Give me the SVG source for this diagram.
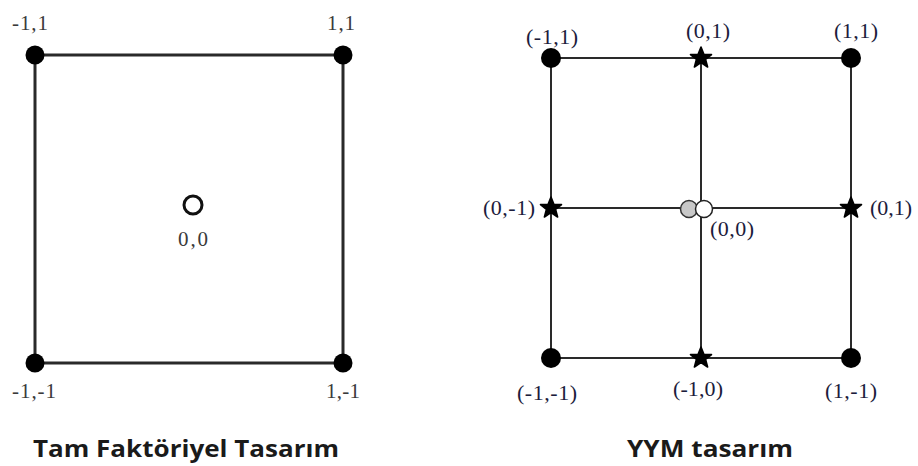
<svg xmlns="http://www.w3.org/2000/svg" width="918" height="466" viewBox="0 0 918 466">
<style>
.lbl{font-family:"Liberation Serif","Times New Roman",serif;font-size:21px;fill:#3a3a3a}
.rlbl{font-family:"Liberation Serif","Times New Roman",serif;font-size:22px;fill:#1c1c3c}
.title{font-family:"Open Sans","Noto Sans",sans-serif;font-weight:bold;font-size:24px;fill:#1a1a1a}
.ledge{stroke:#2a2a2a;stroke-width:3;fill:none}
.redge{stroke:#2a2a2a;stroke-width:2;fill:none}
.dot{fill:#000}
</style>
<defs>
<polygon id="star" points="0,-11 2.9,-3.6 10.5,-3.4 4.6,1.4 6.6,9 0,4.6 -6.6,9 -4.6,1.4 -10.5,-3.4 -2.9,-3.6" fill="#000" stroke="#000" stroke-width="1.6" stroke-linejoin="round"/>
</defs>
<rect width="918" height="466" fill="#fff"/>
<g id="connectors">
<path class="ledge" d="M35,55 H343 V363 H35 Z"/>
<path class="redge" d="M551,58 H851 V358 H551 Z M701,58 V358 M551,208 H851"/>
</g>
<g id="left-corner-tl"><circle class="dot" cx="35" cy="55" r="9.5"/><text class="lbl" x="30" y="30" text-anchor="middle" textLength="36" lengthAdjust="spacing">-1,1</text></g>
<g id="left-corner-tr"><circle class="dot" cx="343" cy="55" r="9.5"/><text class="lbl" x="341" y="30" text-anchor="middle" textLength="28" lengthAdjust="spacing">1,1</text></g>
<g id="left-corner-bl"><circle class="dot" cx="35" cy="363" r="9.5"/><text class="lbl" x="34" y="398" text-anchor="middle" textLength="44" lengthAdjust="spacing">-1,-1</text></g>
<g id="left-corner-br"><circle class="dot" cx="343" cy="363" r="9.5"/><text class="lbl" x="343" y="398" text-anchor="middle" textLength="34" lengthAdjust="spacing">1,-1</text></g>
<g id="left-center"><circle cx="193" cy="205" r="9" fill="#fff" stroke="#111" stroke-width="3"/><text class="lbl" x="193" y="246" text-anchor="middle" textLength="30" lengthAdjust="spacing">0,0</text></g>
<g id="right-tl"><circle class="dot" cx="551" cy="58" r="10"/><text class="rlbl" x="552" y="44" text-anchor="middle" textLength="52" lengthAdjust="spacing">(-1,1)</text></g>
<g id="right-tm"><use href="#star" x="701" y="58"/><text class="rlbl" x="708" y="38" text-anchor="middle" textLength="44" lengthAdjust="spacing">(0,1)</text></g>
<g id="right-tr"><circle class="dot" cx="851" cy="58" r="10"/><text class="rlbl" x="856" y="38" text-anchor="middle" textLength="44" lengthAdjust="spacing">(1,1)</text></g>
<g id="right-ml"><use href="#star" x="551" y="208"/><text class="rlbl" x="509" y="215" text-anchor="middle" textLength="52" lengthAdjust="spacing">(0,-1)</text></g>
<g id="right-mr"><use href="#star" x="851" y="208"/><text class="rlbl" x="891" y="215" text-anchor="middle" textLength="42" lengthAdjust="spacing">(0,1)</text></g>
<g id="right-center"><circle cx="689" cy="209" r="8.5" fill="#c8c8c8" stroke="#333" stroke-width="1.5"/><circle cx="704" cy="209" r="8.5" fill="#fff" stroke="#222" stroke-width="1.5"/><text class="rlbl" x="732" y="236" text-anchor="middle" textLength="44" lengthAdjust="spacing">(0,0)</text></g>
<g id="right-bl"><circle class="dot" cx="551" cy="358" r="10"/><text class="rlbl" x="547" y="400" text-anchor="middle" textLength="60" lengthAdjust="spacing">(-1,-1)</text></g>
<g id="right-bm"><use href="#star" x="701" y="358"/><text class="rlbl" x="698" y="396" text-anchor="middle" textLength="50" lengthAdjust="spacing">(-1,0)</text></g>
<g id="right-br"><circle class="dot" cx="851" cy="358" r="10"/><text class="rlbl" x="851" y="398" text-anchor="middle" textLength="52" lengthAdjust="spacing">(1,-1)</text></g>
<g id="title-left"><text class="title" x="186" y="457" text-anchor="middle" textLength="306" lengthAdjust="spacingAndGlyphs">Tam Faktöriyel Tasarım</text></g>
<g id="title-right"><text class="title" x="710" y="457" text-anchor="middle" textLength="166" lengthAdjust="spacingAndGlyphs">YYM tasarım</text></g>
</svg>
